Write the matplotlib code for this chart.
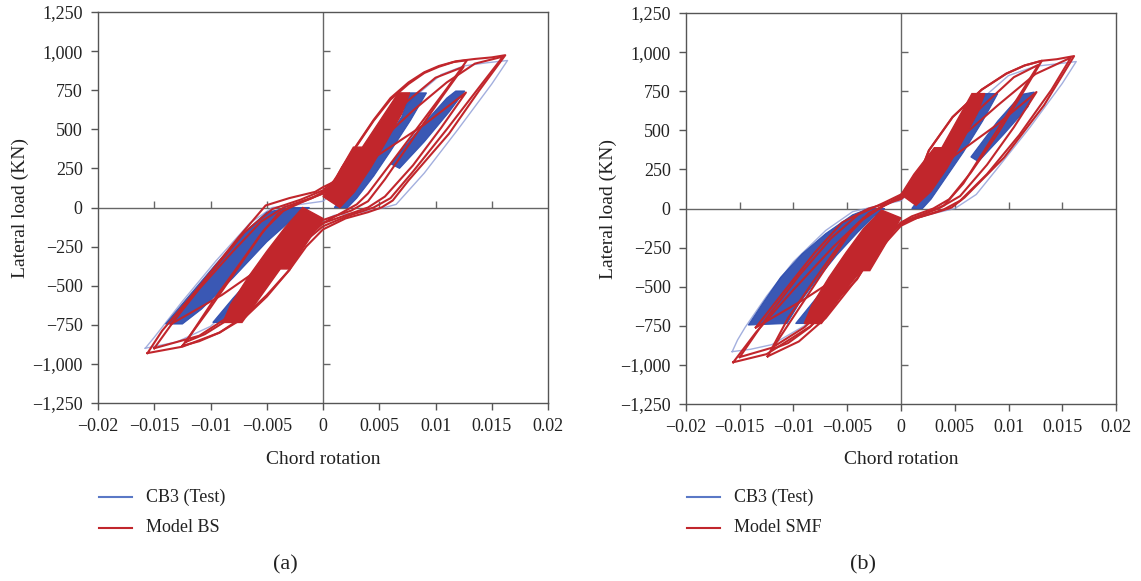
import matplotlib
matplotlib.use("Agg")
import matplotlib.pyplot as plt
from matplotlib.lines import Line2D

plt.rcParams['font.family'] = ['Liberation Serif', 'DejaVu Serif']

RED = '#c1262c'
BLUE = '#2f4fb0'
LIGHT_BLUE = '#8c9bd6'

x_ticks = [-0.02, -0.015, -0.01, -0.005, 0, 0.005, 0.01, 0.015, 0.02]
x_ticklabels = ['\u22120.02', '\u22120.015', '\u22120.01', '\u22120.005', '0',
                '0.005', '0.01', '0.015', '0.02']
y_ticks = [-1250, -1000, -750, -500, -250, 0, 250, 500, 750, 1000, 1250]
y_ticklabels = ['\u22121,250', '\u22121,000', '\u2212750', '\u2212500', '\u2212250', '0',
                '250', '500', '750', '1,000', '1,250']

# ---------------- panel (a): CB3 test vs Model BS ----------------
# dense bands of repeated small cycles (model)
a_band_pos_x = [0.0000, 0.0012, 0.0027, 0.0035, 0.0067, 0.0077, 0.0070, 0.0056, 0.0042, 0.0028, 0.0015]
a_band_pos_y = [70, 200, 386, 386, 733, 733, 600, 420, 250, 100, 0]
a_band_neg_x = [0.0000, -0.0012, -0.0030, -0.0038, -0.0072, -0.0089, -0.0082, -0.0066, -0.0050, -0.0034, -0.0018]
a_band_neg_y = [-70, -200, -393, -393, -735, -735, -620, -440, -280, -130, 0]

# large model cycles
a_big_x = [-0.0156, -0.0143, -0.0113, -0.0075, -0.0051, -0.0030, -0.0007, 0.0000, 0.0010, 0.0017, 0.0030,
           0.0045, 0.0060, 0.0076, 0.0090, 0.0103, 0.0118, 0.0135, 0.0150, 0.0162, 0.0139, 0.0112, 0.0076,
           0.0062, 0.0052, 0.0040, 0.0020, 0.0000, -0.0015, -0.0030, -0.0050, -0.0069, -0.0092, -0.0125, -0.0156]
a_big_y = [-931, -788, -532, -190, 13, 60, 100, 130, 165, 256, 400, 560, 700, 800, 865, 905, 935, 950, 960, 974,
           750, 472, 173, 45, 0, -30, -70, -140, -250, -400, -560, -690, -800, -890, -931]
a_l1_x = [-0.0125, -0.0100, -0.0075, -0.0055, -0.0040, -0.0025, -0.0010, 0.0000, 0.0010, 0.0017, 0.0030, 0.0045,
          0.0060, 0.0076, 0.0090, 0.0103, 0.0116, 0.0128, 0.0110, 0.0085, 0.0060, 0.0040, 0.0030, 0.0015, 0.0000,
          -0.0012, -0.0030, -0.0050, -0.0069, -0.0092, -0.0110, -0.0125]
a_l1_y = [-885, -640, -380, -170, -40, 20, 60, 100, 150, 256, 395, 555, 690, 790, 860, 900, 930, 942, 760, 520,
          280, 90, 20, -40, -100, -180, -400, -570, -700, -800, -855, -885]
a_l2_x = [-0.0135, -0.0110, -0.0080, -0.0055, -0.0035, -0.0015, 0.0000, 0.0020, 0.0050, 0.0090, 0.0127, 0.0105,
          0.0080, 0.0055, 0.0040, 0.0020, 0.0000, -0.0020, -0.0050, -0.0090, -0.0135]
a_l2_y = [-745, -520, -280, -90, 0, 50, 90, 200, 340, 530, 735, 510, 270, 70, 0, -50, -100, -200, -360, -560, -745]
a_l3_x = [-0.0150, -0.0130, -0.0100, -0.0070, -0.0045, -0.0020, 0.0000, 0.0020, 0.0050, 0.0080, 0.0110, 0.0135,
          0.0160, 0.0140, 0.0110, 0.0080, 0.0060, 0.0045, 0.0020, 0.0000, -0.0020, -0.0050, -0.0080, -0.0110, -0.0150]
a_l3_y = [-900, -700, -420, -160, -10, 50, 110, 230, 420, 620, 800, 920, 965, 780, 500, 230, 60, 0, -60, -120,
          -240, -470, -680, -820, -900]
a_l4_x = [-0.0122, -0.0098, -0.0072, -0.0052, -0.0035, -0.0020, 0.0000, 0.0020, 0.0045, 0.0075, 0.0100, 0.0125,
          0.0105, 0.0080, 0.0055, 0.0040, 0.0025, 0.0000, -0.0025, -0.0055, -0.0085, -0.0105, -0.0122]
a_l4_y = [-860, -600, -340, -140, -20, 30, 90, 230, 450, 680, 830, 900, 700, 440, 180, 40, -20, -80, -280, -520,
          -720, -810, -860]

# test record: dense fills and outer envelope
a_test_fill1_x = [0.0010, 0.0035, 0.0055, 0.0070, 0.0077, 0.0092, 0.0078, 0.0060, 0.0045, 0.0030, 0.0022]
a_test_fill1_y = [0, 230, 420, 580, 733, 733, 560, 360, 200, 60, 0]
a_test_fill2_x = [0.0060, 0.0090, 0.0110, 0.0118, 0.0126, 0.0112, 0.0090, 0.0068]
a_test_fill2_y = [280, 540, 700, 745, 745, 610, 420, 250]
a_test_fill3_x = [-0.0140, -0.0122, -0.0095, -0.0070, -0.0050, -0.0030, -0.0012, -0.0025, -0.0050, -0.0080,
                  -0.0108, -0.0125]
a_test_fill3_y = [-745, -590, -360, -160, -30, 0, 0, -60, -220, -450, -650, -745]
a_test_fill4_x = [-0.0098, -0.0085, -0.0062, -0.0040, -0.0025, -0.0035, -0.0055, -0.0080]
a_test_fill4_y = [-735, -735, -540, -330, -180, -190, -380, -580]
a_test_env_x = [-0.0158, -0.0150, -0.0125, -0.0095, -0.0065, -0.0045, -0.0020, 0.0000, 0.0025, 0.0050, 0.0080,
                0.0105, 0.0125, 0.0145, 0.0164, 0.0150, 0.0120, 0.0090, 0.0065, 0.0055, 0.0035, 0.0010, -0.0010,
                -0.0040, -0.0070, -0.0100, -0.0130, -0.0158]
a_test_env_y = [-900, -830, -600, -340, -100, 0, 20, 40, 200, 450, 700, 850, 905, 925, 940, 790, 500, 220, 20, 0,
                -30, -50, -120, -330, -560, -760, -860, -900]

# ---------------- panel (b): CB3 test vs Model SMF ----------------
b_band_pos_x = [0.0000, 0.0012, 0.0031, 0.0038, 0.0066, 0.0078, 0.0071, 0.0057, 0.0043, 0.0028, 0.0014]
b_band_pos_y = [90, 220, 389, 389, 735, 735, 610, 430, 260, 110, 20]
b_band_neg_x = [0.0000, -0.0012, -0.0029, -0.0039, -0.0074, -0.0090, -0.0083, -0.0067, -0.0051, -0.0035, -0.0018]
b_band_neg_y = [-60, -200, -397, -397, -735, -735, -620, -440, -280, -130, -10]

b_big_x = [-0.0156, -0.0135, -0.0100, -0.0063, -0.0039, -0.0014, 0.0000, 0.0015, 0.0026, 0.0048, 0.0075, 0.0098,
           0.0115, 0.0131, 0.0145, 0.0161, 0.0133, 0.0096, 0.0059, 0.0047, 0.0030, 0.0010, 0.0000, -0.0005,
           -0.0023, -0.0041, -0.0084, -0.0125, -0.0156]
b_big_y = [-983, -793, -519, -245, -87, 30, 80, 180, 372, 585, 760, 863, 915, 945, 955, 975, 660, 327, 70, 6,
           -30, -70, -100, -130, -240, -453, -752, -931, -983]
b_l1_x = [-0.0124, -0.0105, -0.0080, -0.0055, -0.0035, -0.0015, 0.0000, 0.0015, 0.0026, 0.0048, 0.0075, 0.0098,
          0.0115, 0.0131, 0.0115, 0.0090, 0.0065, 0.0045, 0.0030, 0.0010, 0.0000, -0.0020, -0.0040, -0.0070,
          -0.0095, -0.0124]
b_l1_y = [-945, -700, -450, -210, -60, 20, 70, 180, 372, 585, 760, 863, 915, 945, 760, 480, 230, 60, 0, -50, -90,
          -230, -440, -700, -850, -945]
b_l2_x = [-0.0135, -0.0110, -0.0080, -0.0055, -0.0030, 0.0000, 0.0020, 0.0050, 0.0090, 0.0126, 0.0105, 0.0080,
          0.0055, 0.0035, 0.0015, 0.0000, -0.0020, -0.0050, -0.0090, -0.0135]
b_l2_y = [-760, -540, -280, -90, 0, 60, 180, 340, 540, 745, 520, 280, 80, 0, -50, -90, -220, -400, -580, -760]
b_l3_x = [-0.0150, -0.0125, -0.0095, -0.0065, -0.0040, -0.0015, 0.0000, 0.0025, 0.0055, 0.0090, 0.0125, 0.0158,
          0.0140, 0.0110, 0.0080, 0.0055, 0.0040, 0.0015, 0.0000, -0.0025, -0.0055, -0.0090, -0.0120, -0.0150]
b_l3_y = [-950, -700, -430, -190, -40, 40, 90, 250, 450, 660, 860, 965, 760, 470, 220, 50, -5, -60, -110, -300,
          -540, -760, -890, -950]
b_l4_x = [-0.0120, -0.0095, -0.0070, -0.0048, -0.0030, -0.0010, 0.0000, 0.0020, 0.0045, 0.0075, 0.0105, 0.0128,
          0.0108, 0.0082, 0.0058, 0.0040, 0.0020, 0.0000, -0.0025, -0.0055, -0.0085, -0.0105, -0.0120]
b_l4_y = [-900, -640, -380, -160, -30, 40, 80, 230, 430, 650, 840, 920, 700, 420, 160, 20, -40, -90, -290, -540,
          -760, -860, -900]

b_test_fill1_x = [0.0010, 0.0035, 0.0055, 0.0070, 0.0078, 0.0090, 0.0076, 0.0058, 0.0042, 0.0028, 0.0020]
b_test_fill1_y = [0, 230, 420, 590, 735, 735, 560, 360, 200, 60, 0]
b_test_fill2_x = [0.0065, 0.0090, 0.0112, 0.0124, 0.0118, 0.0095, 0.0072]
b_test_fill2_y = [330, 560, 730, 745, 650, 470, 300]
b_test_fill3_x = [-0.0142, -0.0128, -0.0112, -0.0092, -0.0070, -0.0045, -0.0030, -0.0015, -0.0025, -0.0040,
                  -0.0060, -0.0080, -0.0095, -0.0106]
b_test_fill3_y = [-745, -600, -440, -290, -160, -40, 0, 0, -50, -150, -300, -470, -610, -735]
b_test_fill4_x = [-0.0098, -0.0086, -0.0060, -0.0040, -0.0048, -0.0075]
b_test_fill4_y = [-735, -735, -480, -300, -300, -540]
b_test_env_x = [-0.0157, -0.0152, -0.0145, -0.0125, -0.0100, -0.0070, -0.0045, -0.0020, 0.0000, 0.0025, 0.0050,
                0.0075, 0.0100, 0.0125, 0.0145, 0.0163, 0.0150, 0.0120, 0.0090, 0.0070, 0.0050, 0.0025, 0.0000,
                -0.0030, -0.0060, -0.0090, -0.0120, -0.0140, -0.0157]
b_test_env_y = [-915, -840, -760, -560, -340, -140, -20, 20, 50, 230, 470, 700, 850, 910, 925, 940, 800, 520,
                260, 90, 0, -40, -90, -330, -570, -750, -870, -900, -915]

panels = [
    dict(rect=[0.0859, 0.3064, 0.3944, 0.6729], model='Model BS', tag='(a)',
         bands=[(a_band_pos_x, a_band_pos_y), (a_band_neg_x, a_band_neg_y)],
         loops=[(a_big_x, a_big_y), (a_l1_x, a_l1_y), (a_l2_x, a_l2_y), (a_l3_x, a_l3_y), (a_l4_x, a_l4_y)],
         fills=[(a_test_fill1_x, a_test_fill1_y), (a_test_fill2_x, a_test_fill2_y),
                (a_test_fill3_x, a_test_fill3_y), (a_test_fill4_x, a_test_fill4_y)],
         env=(a_test_env_x, a_test_env_y)),
    dict(rect=[0.6012, 0.3046, 0.3769, 0.6729], model='Model SMF', tag='(b)',
         bands=[(b_band_pos_x, b_band_pos_y), (b_band_neg_x, b_band_neg_y)],
         loops=[(b_big_x, b_big_y), (b_l1_x, b_l1_y), (b_l2_x, b_l2_y), (b_l3_x, b_l3_y), (b_l4_x, b_l4_y)],
         fills=[(b_test_fill1_x, b_test_fill1_y), (b_test_fill2_x, b_test_fill2_y),
                (b_test_fill3_x, b_test_fill3_y), (b_test_fill4_x, b_test_fill4_y)],
         env=(b_test_env_x, b_test_env_y)),
]

fig = plt.figure(figsize=(11.41, 5.81), dpi=100)
W, H = 1141.0, 581.0

for p in panels:
    ax = fig.add_axes(p['rect'])
    ax.set_xlim(-0.02, 0.02)
    ax.set_ylim(-1250, 1250)

    # test record
    ex, ey = p['env']
    ax.plot(ex, ey, color=LIGHT_BLUE, lw=1.0, alpha=0.8, zorder=2)
    for fx, fy in p['fills']:
        ax.fill(fx, fy, color=BLUE, lw=0.8, alpha=0.95, zorder=3)

    # model
    for bx, by in p['bands']:
        ax.fill(bx, by, color=RED, lw=1.0, zorder=4)
    for lx, ly in p['loops']:
        ax.plot(lx, ly, color=RED, lw=1.5, zorder=5)

    # zero lines with small inner ticks
    ax.axhline(0, color='#666666', lw=1.0, zorder=1)
    ax.axvline(0, color='#666666', lw=1.0, zorder=1)
    inner_x = [t for t in x_ticks[1:-1] if t != 0]
    inner_y = [t for t in y_ticks[1:-1] if t != 0]
    ax.plot(inner_x, [0] * len(inner_x), ls='none', marker=2, ms=5, mew=1.0, color='#666666', zorder=1)
    ax.plot([0] * len(inner_y), inner_y, ls='none', marker=1, ms=5, mew=1.0, color='#666666', zorder=1)

    for s in ax.spines.values():
        s.set_color('#555555')
        s.set_linewidth(1.0)
    ax.set_xticks(x_ticks)
    ax.set_xticklabels(x_ticklabels)
    ax.set_yticks(y_ticks)
    ax.set_yticklabels(y_ticklabels)
    ax.tick_params(direction='out', length=5, width=1.0, color='#555555', labelsize=13, pad=6,
                   labelcolor='#222222')

    x0 = p['rect'][0]
    xc = x0 + p['rect'][2] / 2
    fig.text(x0 - 78 / W, p['rect'][1] + p['rect'][3] / 2, 'Lateral load (KN)', rotation=90,
             ha='center', va='center', fontsize=14, color='#222222')
    fig.text(xc, 1 - 459 / H, 'Chord rotation', ha='center', va='center', fontsize=14, color='#222222')

    # legend
    for yy, col, lab in [(497, '#5a78c6', 'CB3 (Test)'), (528, RED, p['model'])]:
        fig.add_artist(Line2D([x0 + 1 / W, x0 + 34 / W], [1 - yy / H, 1 - yy / H], color=col, lw=1.5))
        fig.text(x0 + 48 / W, 1 - yy / H, lab, ha='left', va='center', fontsize=13, color='#222222')
    fig.text(xc - 38 / W, 1 - 565 / H, p['tag'], ha='center', va='center', fontsize=16, color='#222222')

fig.savefig('out.png', dpi=100)
